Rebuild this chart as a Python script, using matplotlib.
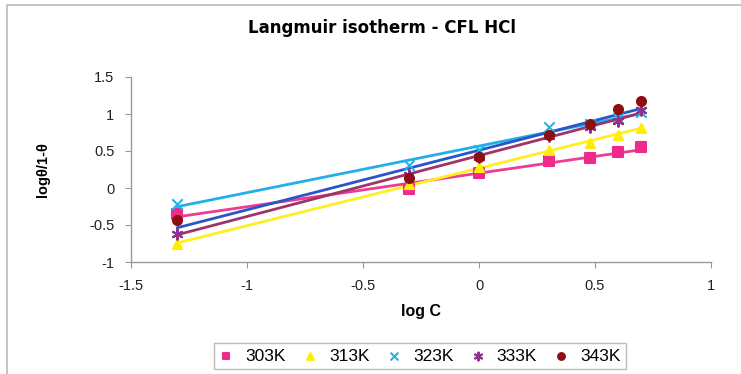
import numpy as np
import matplotlib
matplotlib.use("Agg")
import matplotlib.pyplot as plt
from matplotlib.patches import Rectangle

plt.rcParams['font.family'] = ['Liberation Sans', 'DejaVu Sans']

# log C values (0.05, 0.5, 1, 2, 3, 4, 5 mM)
log_c = [-1.3, -0.3, 0.0, 0.3, 0.48, 0.6, 0.7]

t303 = [-0.35, -0.02, 0.20, 0.36, 0.40, 0.48, 0.55]
t313 = [-0.76, 0.06, 0.28, 0.52, 0.61, 0.72, 0.81]
t323 = [-0.21, 0.31, 0.51, 0.82, 0.86, 0.95, 1.03]
t333 = [-0.62, 0.18, 0.42, 0.70, 0.82, 0.90, 1.06]
t343 = [-0.43, 0.13, 0.42, 0.72, 0.87, 1.07, 1.18]

labels = ["303K", "313K", "323K", "333K", "343K"]
xticks = [-1.5, -1, -0.5, 0, 0.5, 1]
yticks = [-1, -0.5, 0, 0.5, 1, 1.5]

series = [t303, t313, t323, t333, t343]
markers = ['s', '^', 'x', (6, 2, 0), 'o']
mcolors = ['#EE2A8C', '#FFEE00', '#1CB8E8', '#93308F', '#8E0F12']
lcolors = ['#EE3C96', '#FFEE22', '#22AEE8', '#9E3468', '#2856C8']

fig = plt.figure(figsize=(7.41, 3.74), dpi=100)
fig.patches.append(Rectangle((7 / 741, -0.1), 1.2, 1 - 5 / 374 + 0.1,
                             transform=fig.transFigure, fill=False,
                             edgecolor='#BBBBBB', linewidth=1.2))

ax = fig.add_axes([131 / 741, 112 / 374, 580 / 741, 185 / 374])

x = np.array(log_c)
handles = []
for y, m, mc, lc, lab in zip(series, markers, mcolors, lcolors, labels):
    # linear trend line through each temperature's points
    k, b = np.polyfit(x, y, 1)
    xs = np.array([x.min(), x.max()])
    ax.plot(xs, k * xs + b, color=lc, linewidth=2, zorder=2)
    ms = 7.5 if m in ('x', (6, 2, 0)) else 6.5
    h = ax.scatter(x, y, marker=m, s=ms ** 2, color=mc, linewidths=1.5,
                   zorder=3, label=lab)
    handles.append(h)

ax.set_xlim(-1.5, 1)
ax.set_ylim(-1, 1.5)
ax.set_xticks(xticks)
ax.set_yticks(yticks)
ax.set_xticklabels([f"{v:g}" for v in xticks])
ax.set_yticklabels([f"{v:g}" for v in yticks])

for s in ('top', 'right'):
    ax.spines[s].set_visible(False)
for s in ('left', 'bottom'):
    ax.spines[s].set_color('#999999')
    ax.spines[s].set_linewidth(1)
ax.tick_params(direction='out', length=4, color='#999999', labelsize=10.5,
               labelcolor='#222222', pad=8)

ax.set_xlabel("log C", fontsize=11.5, fontweight='bold', labelpad=8)
ax.set_ylabel("logθ/1-θ", fontsize=10.5, fontweight='bold', labelpad=28)

fig.text(382 / 741, 1 - 28 / 374, "Langmuir isotherm - CFL HCl",
         ha='center', va='center', fontsize=12, fontweight='bold',
         family='DejaVu Sans')

leg = fig.legend(handles=handles, labels=labels, loc='center',
                 bbox_to_anchor=(420 / 741, 1 - 356 / 374), ncol=5,
                 fontsize=12.5, frameon=True, fancybox=False,
                 handlelength=0.8, handletextpad=0.7, columnspacing=1.0,
                 borderpad=0.3, scatterpoints=1, markerscale=0.75)
leg.get_frame().set_edgecolor('#AAAAAA')
leg.get_frame().set_linewidth(1)

fig.savefig("out.png", dpi=100)
